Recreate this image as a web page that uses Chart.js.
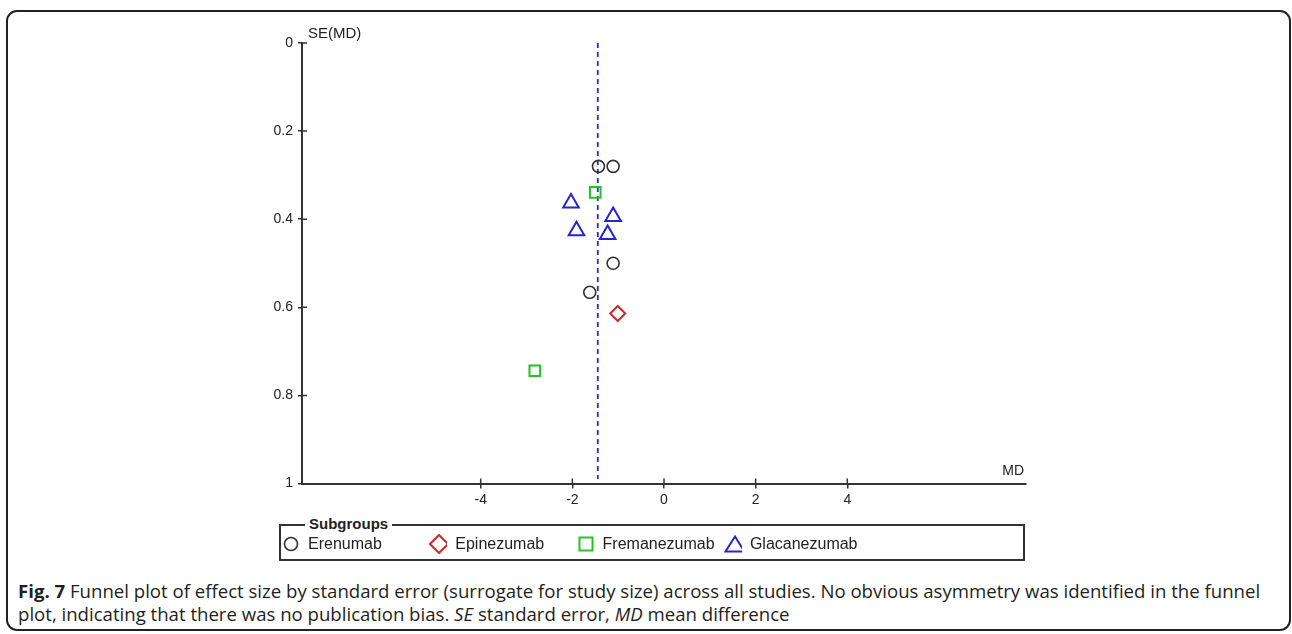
<!DOCTYPE html>
<html>
<head>
<meta charset="utf-8">
<script src="https://cdn.jsdelivr.net/npm/chart.js@4/dist/chart.umd.min.js"></script>
<style>
  html, body { margin: 0; padding: 0; background: #fff; }
  body { width: 1292px; height: 634px; position: relative; overflow: hidden; font-family: Arial, "Liberation Sans", sans-serif; }
  #frame { position: absolute; left: 6px; top: 10px; width: 1285px; height: 621px; border: 2px solid #222; border-radius: 11px; box-sizing: border-box; }
  #chart { position: absolute; left: 0; top: 0; }
  #legendBox { position: absolute; left: 279px; top: 524px; width: 746px; height: 37px; border: 2px solid #333; box-sizing: border-box; }
  #legendTitle { position: absolute; left: 24px; top: -11px; background: #fff; padding: 0 4px; font-weight: bold; font-size: 15px; color: #222; line-height: 18px; }
  #legendItems { position: absolute; left: 1px; top: 8px; display: flex; }
  .item { width: 147.3px; display: flex; align-items: center; font-size: 16px; color: #222; line-height: 20px; }
  .mark { width: 18px; display: flex; justify-content: center; margin-right: 8px; }
  #caption { position: absolute; left: 18px; top: 579px; width: 1256px; font-family: "Open Sans", sans-serif; font-size: 18.6px; line-height: 23px; color: #231f20; }
</style>
</head>
<body>
<div id="frame"></div>
<canvas id="chart" width="1292" height="520"></canvas>
<div id="legendBox">
  <span id="legendTitle">Subgroups</span>
  <div id="legendItems"></div>
</div>
<div id="caption"><b>Fig. 7</b> Funnel plot of effect size by standard error (surrogate for study size) across all studies. No obvious asymmetry was identified in the funnel plot, indicating that there was no publication bias. <i>SE</i> standard error, <i>MD</i> mean difference</div>
<script>
// subgroups and their studies (MD, SE(MD))
const groups = ['Erenumab', 'Epinezumab', 'Fremanezumab', 'Glacanezumab'];
const erenumabMD = [-1.43, -1.11, -1.11, -1.62];
const erenumabSE = [0.280, 0.280, 0.500, 0.566];
const epinezumabMD = [-1.01];
const epinezumabSE = [0.614];
const fremanezumabMD = [-1.50, -2.82];
const fremanezumabSE = [0.339, 0.744];
const glacanezumabMD = [-2.03, -1.11, -1.91, -1.23];
const glacanezumabSE = [0.363, 0.394, 0.426, 0.435];
const pooledMD = -1.445;
const pooledLineSE = [0, 0.99];
const xTicks = [-4, -2, 0, 2, 4];
const yTicks = [0, 0.2, 0.4, 0.6, 0.8, 1];

const colors = ['#333333', '#cc2a2a', '#22c322', '#2626cc'];
const shapes = ['circle', 'rectRot', 'rect', 'triangle'];
const radii = [6, 7.5, 7.5, 9];

function pts(xs, ys) {
  return xs.map((x, i) => ({ x: x, y: ys[i] }));
}

const seriesData = [
  pts(erenumabMD, erenumabSE),
  pts(epinezumabMD, epinezumabSE),
  pts(fremanezumabMD, fremanezumabSE),
  pts(glacanezumabMD, glacanezumabSE)
];

const datasets = groups.map((g, i) => ({
  type: 'scatter',
  label: g,
  data: seriesData[i],
  pointStyle: shapes[i],
  pointRadius: radii[i],
  pointBorderColor: colors[i],
  pointBackgroundColor: 'rgba(0,0,0,0)',
  pointBorderWidth: i == 0 ? 1.6 : 2,
  pointHoverRadius: radii[i]
}));

datasets.push({
  type: 'line',
  label: 'pooled',
  data: pooledLineSE.map(s => ({ x: pooledMD, y: s })),
  borderColor: '#2b2bd6',
  borderWidth: 1.8,
  borderDash: [5, 4],
  pointRadius: 0,
  fill: false
});

// ticks that cross the axis line, plus the axis titles
const axisExtras = {
  id: 'axisExtras',
  afterDraw(chart) {
    const ctx = chart.ctx;
    const xs = chart.scales.x, ys = chart.scales.y;
    const area = chart.chartArea;
    ctx.save();
    ctx.strokeStyle = '#333';
    ctx.lineWidth = 1.5;
    ctx.beginPath();
    ys.ticks.forEach(t => {
      if (t.value == 1) return;
      const p = ys.getPixelForValue(t.value);
      ctx.moveTo(area.left, p);
      ctx.lineTo(area.left + 5, p);
    });
    xs.ticks.forEach(t => {
      const p = xs.getPixelForValue(t.value);
      ctx.moveTo(p, area.bottom);
      ctx.lineTo(p, area.bottom - 5);
    });
    ctx.stroke();
    ctx.fillStyle = '#222';
    ctx.font = '15px Arial';
    ctx.textBaseline = 'middle';
    ctx.textAlign = 'left';
    ctx.fillText('SE(MD)', area.left + 6, area.top - 9);
    ctx.font = '14px Arial';
    ctx.textAlign = 'right';
    ctx.fillText('MD', area.right - 2, area.bottom - 12);
    ctx.restore();
  }
};

new Chart(document.getElementById('chart'), {
  data: { datasets: datasets },
  options: {
    responsive: false,
    animation: false,
    layout: { padding: { left: 262, right: 266, top: 43, bottom: 6.5 } },
    plugins: { legend: { display: false }, tooltip: { enabled: false } },
    scales: {
      x: {
        type: 'linear',
        min: -7.9,
        max: 7.9,
        afterBuildTicks: s => { s.ticks = xTicks.map(v => ({ value: v })); },
        afterFit: s => { s.height = 30; },
        ticks: { color: '#222', font: { size: 14, family: 'Arial' }, padding: 3, callback: v => String(v) },
        grid: { drawOnChartArea: false, tickLength: 5, color: '#333', lineWidth: 1.5 },
        border: { color: '#333', width: 2 }
      },
      y: {
        type: 'linear',
        reverse: true,
        min: 0,
        max: 1,
        afterBuildTicks: s => { s.ticks = yTicks.map(v => ({ value: v })); },
        afterFit: s => { s.width = 40; },
        ticks: { color: '#222', font: { size: 14, family: 'Arial' }, padding: 5, callback: v => String(v) },
        grid: { drawOnChartArea: false, tickLength: 4, color: '#333', lineWidth: 1.5 },
        border: { color: '#333', width: 2 }
      }
    }
  },
  plugins: [axisExtras]
});

// legend with fixed columns like the original
const svgShapes = [
  '<svg width="16" height="16"><circle cx="8" cy="8" r="6.5" fill="none" stroke="#333" stroke-width="1.6"/></svg>',
  '<svg width="20" height="20"><polygon points="1,10 10,1 19,10 10,19" fill="none" stroke="#cc2a2a" stroke-width="2"/></svg>',
  '<svg width="16" height="16"><rect x="1.5" y="1.5" width="13" height="13" fill="none" stroke="#22c322" stroke-width="2"/></svg>',
  '<svg width="22" height="18"><polygon points="11,1.5 20.5,16.5 1.5,16.5" fill="none" stroke="#2626cc" stroke-width="2"/></svg>'
];
const legendItems = document.getElementById('legendItems');
groups.forEach((g, i) => {
  const el = document.createElement('div');
  el.className = 'item';
  el.innerHTML = '<span class="mark">' + svgShapes[i] + '</span><span>' + g + '</span>';
  legendItems.appendChild(el);
});
</script>
</body>
</html>
